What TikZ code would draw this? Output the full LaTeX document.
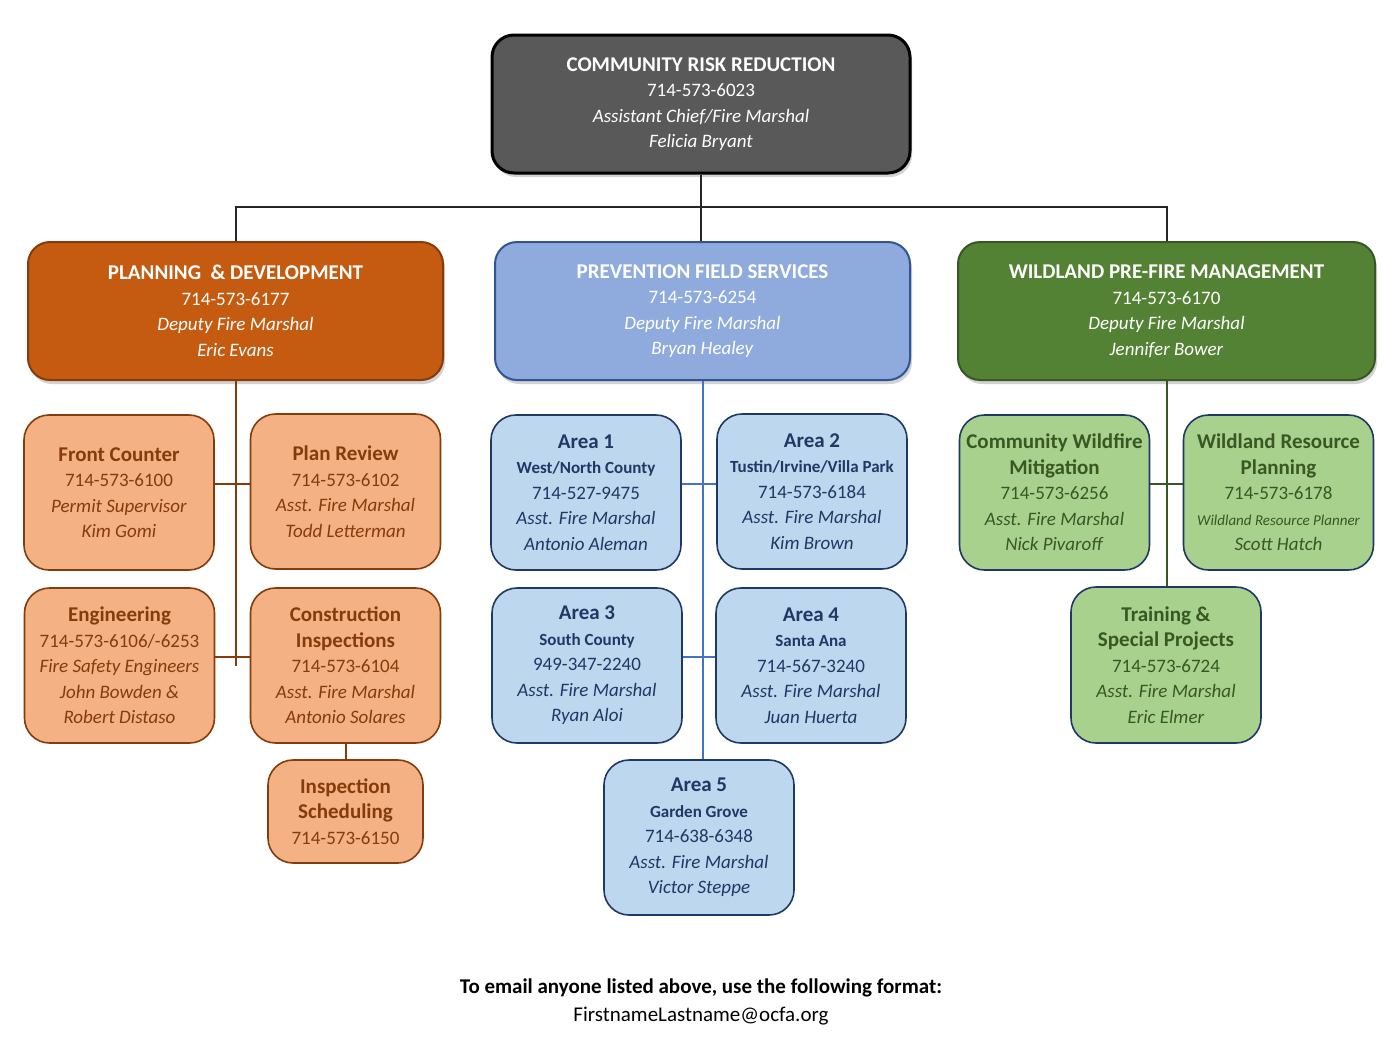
\documentclass[tikz,border=0pt]{standalone}
\usepackage{fontspec}
\setmainfont{Carlito}
\usetikzlibrary{shadows}
\definecolor{crrgray}{HTML}{595959}
\definecolor{pdfill}{HTML}{C55A11}
\definecolor{pddraw}{HTML}{843C0C}
\definecolor{pfsfill}{HTML}{8FAADC}
\definecolor{pfsdraw}{HTML}{2F5597}
\definecolor{wpmfill}{HTML}{548235}
\definecolor{wpmdraw}{HTML}{385723}
\definecolor{ofill}{HTML}{F4B183}
\definecolor{otext}{HTML}{843C0C}
\definecolor{bfill}{HTML}{BDD7EE}
\definecolor{btext}{HTML}{1F3864}
\definecolor{bline}{HTML}{4472C4}
\definecolor{gfill}{HTML}{A9D18E}
\definecolor{gtext}{HTML}{385723}
\newcommand{\htitle}[1]{{\fontsize{21}{25.5}\selectfont\bfseries #1}}
\newcommand{\ctitle}[1]{{\fontsize{21}{25.5}\selectfont\bfseries #1}}
\newcommand{\csub}[1]{{\fontsize{17}{25.5}\selectfont\bfseries #1}}
\begin{document}
\begin{tikzpicture}[x=1pt,y=-1pt,
  basebox/.style={rounded corners=22pt, align=center, inner sep=0pt,
    font=\fontsize{19}{25.5}\selectfont},
  headbox/.style={basebox, line width=2pt, minimum width=415pt, minimum height=138pt,
    text=white, drop shadow={opacity=0.35, shadow xshift=2pt, shadow yshift=-4pt}},
  crrbox/.style={headbox, fill=crrgray, draw=black, line width=3pt, minimum width=418pt},
  pdbox/.style={headbox, fill=pdfill, draw=pddraw},
  pfsbox/.style={headbox, fill=pfsfill, draw=pfsdraw},
  wpmbox/.style={headbox, fill=wpmfill, draw=wpmdraw},
  childbox/.style={basebox, rounded corners=25pt, line width=1.6pt, minimum width=190pt, minimum height=155pt},
  obox/.style={childbox, fill=ofill, draw=otext, text=otext},
  bbox/.style={childbox, fill=bfill, draw=btext, text=btext},
  gbox/.style={childbox, fill=gfill, draw=btext, text=gtext},
  topline/.style={draw=black!85, line width=2pt},
  oline/.style={draw=otext, line width=2pt},
  bluel/.style={draw=bline, line width=2pt},
  gline/.style={draw=gtext, line width=2pt},
  foot/.style={font=\fontsize{21}{25.5}\selectfont, inner sep=0pt}
]
\useasboundingbox[fill=white] (0,0) rectangle (1400,1050);

\coordinate (bus) at (701,207);

% head boxes
\node[crrbox] (crr) at (701,104) {\htitle{COMMUNITY RISK REDUCTION}\\714-573-6023\\\textit{Assistant Chief/Fire Marshal}\\\textit{Felicia Bryant}};
\node[pdbox] (pd) at (235.5,311) {\htitle{PLANNING \ \& DEVELOPMENT}\\714-573-6177\\\textit{Deputy Fire Marshal}\\\textit{Eric Evans}};
\node[pfsbox] (pfs) at (702.5,311) {\htitle{PREVENTION FIELD SERVICES}\\714-573-6254\\\textit{Deputy Fire Marshal}\\\textit{Bryan Healey}};
\node[wpmbox, minimum width=417pt] (wpm) at (1166.5,311) {\htitle{WILDLAND PRE-FIRE MANAGEMENT}\\714-573-6170\\\textit{Deputy Fire Marshal}\\\textit{Jennifer Bower}};

% orange children
\node[obox] (fc) at (119,492.5) {\ctitle{Front Counter}\\714-573-6100\\\textit{Permit Supervisor}\\\textit{Kim Gomi}};
\node[obox] (pr) at (345.5,491.5) {\ctitle{Plan Review}\\714-573-6102\\\textit{Asst. Fire Marshal}\\\textit{Todd Letterman}};
\node[obox] (eng) at (119.5,665.5) {\ctitle{Engineering}\\714-573-6106/-6253\\\textit{Fire Safety Engineers}\\\textit{John Bowden \&}\\\textit{Robert Distaso}};
\node[obox] (ci) at (345.5,665.5) {\ctitle{Construction}\\\ctitle{Inspections}\\714-573-6104\\\textit{Asst. Fire Marshal}\\\textit{Antonio Solares}};
\node[obox, minimum width=155pt, minimum height=103pt] (is) at (345.5,811.5) {\ctitle{Inspection}\\\ctitle{Scheduling}\\714-573-6150};

% blue children
\node[bbox] (a1) at (586,492.5) {\ctitle{Area 1}\\\csub{West/North County}\\714-527-9475\\\textit{Asst. Fire Marshal}\\\textit{Antonio Aleman}};
\node[bbox] (a2) at (812,491.5) {\ctitle{Area 2}\\\csub{Tustin/Irvine/Villa Park}\\714-573-6184\\\textit{Asst. Fire Marshal}\\\textit{Kim Brown}};
\node[bbox] (a3) at (587,665.5) {\ctitle{Area 3}\\\csub{South County}\\949-347-2240\\\textit{Asst. Fire Marshal}\\\textit{Ryan Aloi}};
\node[bbox] (a4) at (811,665.5) {\ctitle{Area 4}\\\csub{Santa Ana}\\714-567-3240\\\textit{Asst. Fire Marshal}\\\textit{Juan Huerta}};
\node[bbox] (a5) at (699,837.5) {\ctitle{Area 5}\\\csub{Garden Grove}\\714-638-6348\\\textit{Asst. Fire Marshal}\\\textit{Victor Steppe}};

% green children
\node[gbox] (cwm) at (1054.5,492.5) {\ctitle{Community Wildfire}\\\ctitle{Mitigation}\\714-573-6256\\\textit{Asst. Fire Marshal}\\\textit{Nick Pivaroff}};
\node[gbox] (wrp) at (1278.5,492.5) {\ctitle{Wildland Resource}\\\ctitle{Planning}\\714-573-6178\\{\fontsize{15}{25.5}\selectfont\itshape Wildland Resource Planner}\\\textit{Scott Hatch}};
\node[gbox, minimum height=156pt] (tsp) at (1166,665) {\ctitle{Training \&}\\\ctitle{Special Projects}\\714-573-6724\\\textit{Asst. Fire Marshal}\\\textit{Eric Elmer}};

% connectors
\draw[topline] (crr.south) -- (crr.south |- pfs.north);
\draw[topline] (pd.north) |- (bus) -| (wpm.north);

\draw[oline] (pd.south) -- (pd.south |- ci.west);
\draw[oline] ([yshift=9pt]fc.east) -- ([yshift=9pt]fc.east -| pr.west);
\draw[oline] ([yshift=9pt]eng.east) -- ([yshift=9pt]eng.east -| ci.west);
\draw[oline] (ci.south) -- (is.north);

\draw[bluel] (pfs.south) -- (pfs.south |- a5.north);
\draw[bluel] ([yshift=9pt]a1.east) -- ([yshift=9pt]a1.east -| a2.west);
\draw[bluel] ([yshift=9pt]a3.east) -- ([yshift=9pt]a3.east -| a4.west);

\draw[gline] (wpm.south) -- (wpm.south |- tsp.north);
\draw[gline] ([yshift=9pt]cwm.east) -- ([yshift=9pt]cwm.east -| wrp.west);

% footer
\node[foot] (f1) at (701,988) {\textbf{To email anyone listed above, use the following format:}};
\node[foot] (f2) at (701,1016) {FirstnameLastname@ocfa.org};
\end{tikzpicture}
\end{document}
